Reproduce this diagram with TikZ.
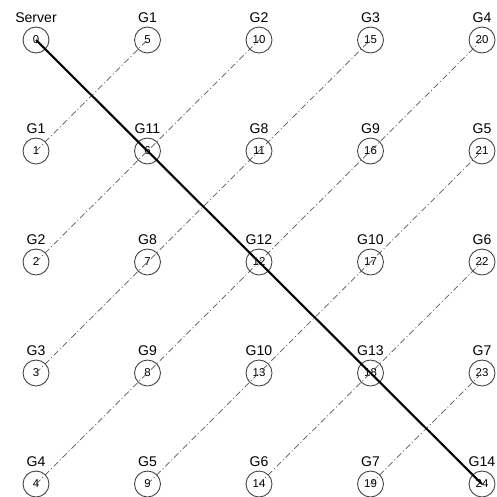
\documentclass[tikz,border=0pt]{standalone}
\usepackage{fontspec}
\setmainfont{Liberation Sans}
\usetikzlibrary{positioning}

\begin{document}
\begin{tikzpicture}
        [x=0.02cm,y=-0.02cm,
         site/.style={circle,draw=black!75,line width=0.5pt,minimum size=0.52cm,inner sep=0pt,font=\fontsize{6.5}{7}\selectfont},
         tag/.style={inner sep=0pt,font=\fontsize{8}{9}\selectfont},
         link/.style={gray!70!black,line width=0.4pt,dash pattern=on 3.5pt off 1.5pt on 0.6pt off 1.5pt},
         route/.style={black,line width=1.2pt}]
        \useasboundingbox (0,0) rectangle (497,497);
        \foreach \c in {0,...,4}
          \foreach \r in {0,...,4}
          {
            \pgfmathtruncatemacro\n{5*\c+\r}
            \node[site] (n\n) at (36+111.5*\c,40+111*\r) {\n};
          }
        \foreach \n/\t in {0/Server,1/G1,2/G2,3/G3,4/G4,
                           5/G1,6/G11,7/G8,8/G9,9/G5,
                           10/G2,11/G8,12/G12,13/G10,14/G6,
                           15/G3,16/G9,17/G10,18/G13,19/G7,
                           20/G4,21/G5,22/G6,23/G7,24/G14}
          \node[tag,above=2.3pt of n\n] (g\n) {\t};
        % dash-dot links
        \foreach \a/\b in {1/5,2/10,3/15,4/20,9/21,14/22,19/23}
          \draw[link] (n\a.center) -- (n\b.center);
        % server route
        \draw[route] (n0.center) -- (n24.center);
      \end{tikzpicture}
\end{document}
